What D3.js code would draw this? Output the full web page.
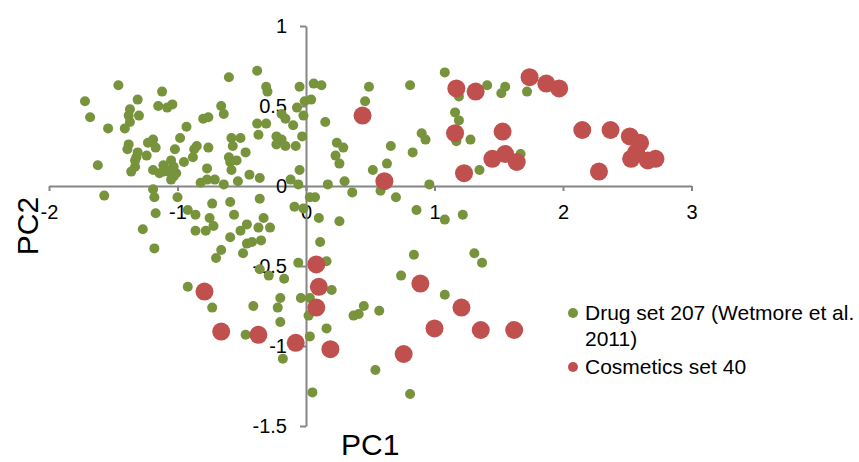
<!DOCTYPE html>
<html>
<head>
<meta charset="utf-8">
<script src="https://cdn.jsdelivr.net/npm/d3@7"></script>
<style>
  body { margin: 0; background: #fff; }
  text { font-family: "Liberation Sans", Arial, sans-serif; fill: #000; }
</style>
</head>
<body>
<div id="chart"></div>
<script>
// PCA scores, [PC1, PC2]
var drugSet = [
  [-1.46,0.63],[-1.72,0.53],[-1.31,0.54],[-1.12,0.59],[-1.68,0.43],[-1.15,0.50],[-1.08,0.49],[-1.04,0.51],[-1.37,0.48],[-1.38,0.44],
  [-1.30,0.44],[-1.37,0.40],[-1.41,0.36],[-1.54,0.36],[-1.19,0.29],[-1.23,0.27],[-1.17,0.24],[-1.38,0.26],[-1.39,0.23],[-1.31,0.21],
  [-1.32,0.18],[-1.24,0.19],[-1.02,0.23],[-1.62,0.13],[-1.33,0.12],[-1.36,0.09],[-1.19,0.10],[-1.11,0.13],[-1.05,0.16],[-1.07,0.09],
  [-1.14,0.08],[-1.03,0.06],[-1.05,0.04],[-1.19,-0.02],[-1.18,-0.07],[-1.57,-0.06],[-1.00,-0.07],[-0.98,0.30],[-1.33,0.16],[-0.95,0.15],
  [-1.03,0.12],[-1.08,0.10],[-1.01,0.08],[-1.11,0.09],[-0.77,0.11],[-0.82,0.02],[-0.77,0.04],[-0.71,0.04],
  [-0.38,0.72],[-0.60,0.68],[-0.31,0.62],[-0.30,0.59],[-0.05,0.62],[-0.66,0.50],[-0.64,0.45],[-0.80,0.42],[-0.76,0.43],[-0.93,0.37],
  [-0.85,0.25],[-0.87,0.23],[-0.76,0.24],[-0.88,0.18],[-0.58,0.30],[-0.51,0.30],[-0.57,0.25],[-0.47,0.21],[-0.60,0.18],[-0.59,0.15],
  [-0.54,0.16],[-0.58,0.10],[-0.53,0.03],[-0.44,0.07],[-0.36,0.05],[-0.64,0.01],[-0.38,0.39],[-0.31,0.39],[-0.37,0.32],[-0.23,0.31],
  [-0.19,0.29],[-0.23,0.26],[-0.16,0.25],[-0.08,0.25],[-0.03,0.31],[-0.19,0.45],[-0.16,0.42],[-0.10,0.38],[-0.07,0.49],[-0.01,0.53],
  [-0.02,0.44],[-0.36,-0.08],[-0.12,0.04],[-0.06,0.01],[-0.05,0.10],
  [1.08,0.71],[0.06,0.64],[0.12,0.63],[0.49,0.62],[0.81,0.63],[0.04,0.54],[0.46,0.53],[0.15,0.40],[0.24,0.27],[0.29,0.24],
  [0.23,0.19],[0.26,0.14],[0.66,0.25],[0.83,0.21],[0.90,0.33],[0.93,0.29],[0.63,0.14],[0.52,0.10],[0.30,0.03],[0.17,0.01],
  [0.36,-0.04],[0.58,-0.03],[0.70,-0.07],[0.96,0.01],[0.03,-0.07],[0.07,-0.07],
  [1.41,0.63],[1.55,0.62],[1.52,0.58],[1.72,0.59],[1.19,0.56],[1.16,0.46],[1.19,0.41],[1.17,0.28],[1.28,0.29],[1.35,0.10],[1.67,0.20],[2.51,0.17],
  [-1.17,-0.17],[-1.27,-0.27],[-1.18,-0.39],[-0.92,-0.15],[-0.86,-0.18],[-0.73,-0.11],[-0.75,-0.20],[-0.72,-0.25],[-0.86,-0.28],[-0.78,-0.28],
  [-0.59,-0.10],[-0.56,-0.18],[-0.59,-0.32],[-0.51,-0.28],[-0.46,-0.24],[-0.33,-0.20],[-0.37,-0.26],[-0.28,-0.26],[-0.46,-0.36],[-0.42,-0.35],
  [-0.35,-0.34],[-0.49,-0.42],[-0.66,-0.40],[-0.70,-0.45],[-0.36,-0.52],[-0.29,-0.56],[-0.17,-0.58],[-0.06,-0.48],[-0.09,-0.13],[-0.02,-0.14],
  [-0.92,-0.63],[-0.20,-0.70],[-0.73,-0.76],[-0.41,-0.75],[-0.22,-0.76],[-0.04,-0.70],
  [0.10,-0.20],[0.26,-0.22],[0.86,-0.15],[1.08,-0.21],[1.22,-0.18],[0.11,-0.35],[0.16,-0.47],[0.84,-0.43],[1.31,-0.42],[1.37,-0.48],
  [0.74,-0.56],[0.20,-0.65],[1.08,-0.68],[0.03,-0.70],[0.45,-0.75],[0.57,-0.78],[0.37,-0.81],[0.41,-0.80],
  [-0.20,-0.85],[-0.47,-0.93],[0.03,-0.94],[-0.18,-1.08],[0.05,-1.29],[0.02,-0.81],[0.16,-0.89],[0.54,-1.15],[0.81,-1.30]
];

var cosmeticsSet = [
  [0.44,0.44],[0.61,0.03],[1.17,0.61],[1.32,0.59],[1.74,0.68],[1.87,0.64],[1.97,0.61],[1.16,0.33],[1.53,0.34],[2.15,0.35],
  [2.37,0.35],[2.52,0.31],[2.60,0.27],[1.45,0.17],[1.55,0.20],[1.64,0.15],[1.23,0.08],[2.28,0.09],[2.53,0.17],[2.57,0.21],
  [2.66,0.16],[2.72,0.17],[-0.79,-0.66],[0.08,-0.49],[0.10,-0.63],[0.89,-0.61],[0.08,-0.76],[1.21,-0.76],[-0.66,-0.91],[-0.37,-0.93],
  [-0.08,-0.98],[1.00,-0.89],[1.36,-0.90],[1.62,-0.90],[0.19,-1.02],[0.76,-1.05]
];

var xTicks = [-2, -1, 0, 1, 2, 3];
var yTicks = [-1.5, -1, -0.5, 0, 0.5, 1];
var seriesNames = ["Drug set 207 (Wetmore et al.", "2011)", "Cosmetics set 40"];

var W = 859, H = 462,
  green = "#77933C", red = "#C0504D", axisColor = "#868686";

var svg = d3.select("#chart").append("svg").attr("width", W).attr("height", H);

var x = d3.scaleLinear().domain([-2, 3]).range([49, 691.5]),
  y = d3.scaleLinear().domain([-1.5, 1]).range([426, 26]);

// plain hyphen minus like the original
function fmt(d){ return String(d); }

//横轴 (drawn through y=0)
var gx = svg.append("g").attr("transform", "translate(0," + y(0) + ")")
  .call(d3.axisBottom(x).tickValues(xTicks).tickSize(5).tickSizeOuter(0).tickPadding(14).tickFormat(fmt));
//纵轴 (drawn through x=0)
var gy = svg.append("g").attr("transform", "translate(" + x(0) + ",0)")
  .call(d3.axisLeft(y).tickValues(yTicks).tickSize(6).tickSizeOuter(0).tickPadding(13).tickFormat(fmt));

[gx, gy].forEach(function(g){
  g.select(".domain").attr("stroke", axisColor).attr("stroke-width", 2);
  g.selectAll(".tick line").attr("stroke", axisColor).attr("stroke-width", 2);
  g.selectAll(".tick text").attr("fill", "#000").style("font-size", "20px")
    .style("font-family", '"Liberation Sans", Arial, sans-serif');
});

svg.append("text").attr("x", x(0.5)).attr("y", 455).attr("text-anchor", "middle")
  .style("font-size", "30px").text("PC1");
svg.append("text").attr("transform", "translate(38," + y(-0.25) + ") rotate(-90)")
  .attr("text-anchor", "middle").style("font-size", "30px").text("PC2");

svg.append("g").selectAll("circle").data(drugSet).enter().append("circle")
  .attr("cx", function(d){ return x(d[0]); })
  .attr("cy", function(d){ return y(d[1]); })
  .attr("r", 5).attr("fill", green);

svg.append("g").selectAll("circle").data(cosmeticsSet).enter().append("circle")
  .attr("cx", function(d){ return x(d[0]); })
  .attr("cy", function(d){ return y(d[1]); })
  .attr("r", 9).attr("fill", red);

// legend
var lg = svg.append("g").attr("transform", "translate(573,0)");
lg.append("circle").attr("cx", 0).attr("cy", 313).attr("r", 5).attr("fill", green);
lg.append("text").attr("x", 12).attr("y", 320).style("font-size", "21px").text(seriesNames[0]);
lg.append("text").attr("x", 12).attr("y", 346).style("font-size", "21px").text(seriesNames[1]);
lg.append("circle").attr("cx", 0).attr("cy", 367).attr("r", 5).attr("fill", red);
lg.append("text").attr("x", 12).attr("y", 374).style("font-size", "21px").text(seriesNames[2]);
</script>
</body>
</html>
